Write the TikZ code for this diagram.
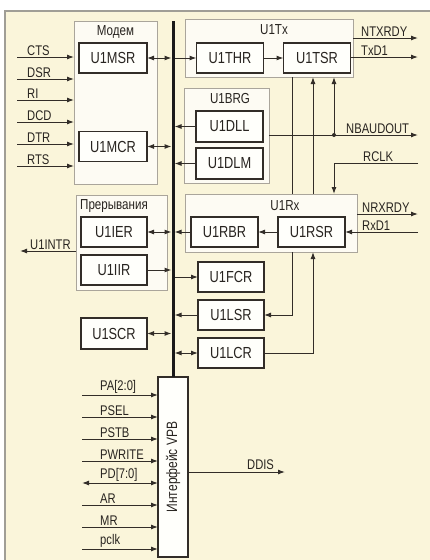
\documentclass[tikz,border=0pt]{standalone}
\usepackage{fontspec}
\setmainfont{Liberation Sans}[FakeStretch=0.8]
\usetikzlibrary{arrows.meta}
\definecolor{cream}{RGB}{250,245,218}
\definecolor{grpfill}{RGB}{253,251,243}
\definecolor{regfill}{RGB}{255,255,251}
\definecolor{grpline}{RGB}{170,165,155}
\definecolor{linec}{RGB}{50,45,40}
\definecolor{textc}{RGB}{40,36,32}
\definecolor{framec}{RGB}{160,158,150}
\tikzset{
  grp/.style={draw=grpline, fill=grpfill, line width=0.8pt, inner sep=0pt, outer sep=0pt, anchor=north west},
  reg/.style={draw=linec, fill=regfill, line width=1.4pt, inner sep=0pt, outer sep=0pt,
    minimum width=67pt, minimum height=30pt, text=textc, font=\fontsize{16}{19}\selectfont},
  ttl/.style={text=textc, inner sep=0pt, font=\fontsize{14.5}{17}\selectfont},
  sig/.style={text=textc, inner sep=0pt, anchor=south west, font=\fontsize{14}{16}\selectfont},
  conn/.style={draw=linec, line width=1pt},
  arr/.style={conn, -{Latex[length=7pt,width=5pt]}},
  darr/.style={conn, {Latex[length=7pt,width=5pt]}-{Latex[length=7pt,width=5pt]}},
  busline/.style={draw=black!90, line width=3pt},
}
\begin{document}
\begin{tikzpicture}[x=1pt,y=-1pt]
\path[use as bounding box] (0,0) rectangle (430,560);
\fill[white] (0,0) rectangle (430,560);
\fill[cream] (5,11) rectangle (430,560);
\draw[framec, line width=1.5pt] (5,560) -- (5,11) -- (430,11);

% group boxes
\node[grp, minimum width=83pt, minimum height=163pt] (modem) at (74,21) {};
\node[ttl] (modemT) at (115.5,32) {Модем};
\node[grp, minimum width=168pt, minimum height=58pt] (tx) at (185,19) {};
\node[ttl] (txT) at (274,30) {U1Tx};
\node[grp, minimum width=85pt, minimum height=95pt] (brg) at (184,88) {};
\node[ttl] (brgT) at (230,99) {U1BRG};
\node[grp, minimum width=172pt, minimum height=58pt] (rx) at (185,194) {};
\node[ttl] (rxT) at (285,206) {U1Rx};
\node[grp, minimum width=91pt, minimum height=95pt] (intr) at (76,195) {};
\node[ttl] (intrT) at (114,206) {Прерывания};

% registers
\node[reg, minimum width=68pt] (msr) at (113,58) {U1MSR};
\node[reg, minimum width=68pt] (mcr) at (113,146.5) {U1MCR};
\node[reg] (thr) at (230,58) {U1THR};
\node[reg] (tsr) at (317,58) {U1TSR};
\node[reg, minimum height=31pt] (dll) at (229.5,126.5) {U1DLL};
\node[reg, minimum height=31pt] (dlm) at (229.5,163.5) {U1DLM};
\node[reg] (rbr) at (224.5,232) {U1RBR};
\node[reg] (rsr) at (311.5,232) {U1RSR};
\node[reg, minimum width=66pt] (ier) at (114,232) {U1IER};
\node[reg, minimum width=66pt] (iir) at (114,270) {U1IIR};
\node[reg, minimum width=66pt, minimum height=31pt] (scr) at (114,333.5) {U1SCR};
\node[reg, minimum width=66pt] (fcr) at (231,277) {U1FCR};
\node[reg, minimum width=66pt] (lsr) at (231,315) {U1LSR};
\node[reg, minimum width=66pt] (lcr) at (231,353) {U1LCR};
\node[reg, minimum width=30pt, minimum height=180pt, line width=1.2pt] (vpb) at (173,467) {};
\node[rotate=90, text=textc, inner sep=0pt, font=\fontsize{15}{17}\selectfont] (vpbT) at (vpb.center) {Интерфейс VPB};

% bus
\coordinate (bustop) at (173,21);
\draw[busline] (bustop) -- (vpb.north);

% bus connections
\draw[darr, shorten >=1.5pt] (msr.east) -- (msr.east -| bustop);
\draw[arr, shorten <=1.5pt] (thr.west -| bustop) -- (thr.west);
\draw[darr, shorten >=1.5pt] (mcr.east) -- (mcr.east -| bustop);
\draw[arr, shorten >=1.5pt] (dll.west) -- (dll.west -| bustop);
\draw[arr, shorten >=1.5pt] (dlm.west) -- (dlm.west -| bustop);
\draw[darr, shorten >=1.5pt] (ier.east) -- (ier.east -| bustop);
\draw[arr, shorten >=1.5pt] (rbr.west) -- (rbr.west -| bustop);
\draw[arr, shorten >=1.5pt] (iir.east) -- (iir.east -| bustop);
\draw[arr, shorten <=1.5pt] (fcr.west -| bustop) -- (fcr.west);
\draw[arr, shorten >=1.5pt] (lsr.west) -- (lsr.west -| bustop);
\draw[darr, shorten >=1.5pt] (scr.east) -- (scr.east -| bustop);
\draw[darr, shorten <=1.5pt] (lcr.west -| bustop) -- (lcr.west);

% internal arrows
\draw[arr] (thr.east) -- (tsr.west);
\draw[arr] (rsr.west) -- (rbr.east);

% left modem inputs
\foreach \lab/\y [count=\i] in {CTS/57, DSR/79, RI/100, DCD/122, DTR/144, RTS/166} {
  \coordinate (min\i) at (17,\y);
  \draw[arr] (min\i) -- (min\i -| modem.west);
  \node[sig] (minl\i) at (27,\y-1.5) {\lab};
}

% U1INTR
\coordinate (introut) at (20,251);
\draw[arr] (introut -| intr.west) -- (introut);
\node[sig] (intrl) at (30,249.5) {U1INTR};

% VPB inputs
\foreach \lab/\y [count=\i] in {{PA[2:0]}/395, PSEL/417, PSTB/439, PWRITE/461, AR/505, MR/527, pclk/549} {
  \coordinate (vin\i) at (82,\y);
  \draw[arr] (vin\i) -- (vin\i -| vpb.west);
  \node[sig] (vinl\i) at (100,\y-1.5) {\lab};
}
\coordinate (pdin) at (82,483);
\draw[darr] (pdin) -- (pdin -| vpb.west);
\node[sig] (pdl) at (100,481.5) {PD[7:0]};

% DDIS
\coordinate (ddis) at (285,472);
\draw[arr] (ddis -| vpb.east) -- (ddis);
\node[sig] (ddisl) at (247,470) {DDIS};

% right side signals
\coordinate (ntx) at (418,38);
\draw[arr] (ntx -| tx.east) -- (ntx);
\node[sig] (ntxl) at (361,36.5) {NTXRDY};
\coordinate (txd) at (418,57);
\draw[arr] (tsr.east |- txd) -- (txd);
\node[sig] (txdl) at (361,55.5) {TxD1};

\coordinate (nbaud) at (418,135);
\coordinate (nbdot) at (334,135);
\draw[arr] (nbaud -| brg.east) -- (nbaud);
\fill[linec] (nbdot) circle (2pt);
\node[sig] (nbaudl) at (346,133.5) {NBAUDOUT};
\draw[arr] (nbdot) -- (nbdot |- tx.south);

\coordinate (rclk) at (418,163);
\draw[arr] (rclk) -| (nbdot |- rx.north);
\node[sig] (rclkl) at (363,161.5) {RCLK};

\coordinate (nrx) at (418,214);
\draw[arr] (nrx -| rx.east) -- (nrx);
\node[sig] (nrxl) at (362,212.5) {NRXRDY};
\coordinate (rxd) at (418,232);
\draw[arr] (rxd) -- (rxd -| rsr.east);
\node[sig] (rxdl) at (362,230.5) {RxD1};

% vertical links
\coordinate (v1) at (292,315);
\draw[conn] (v1 |- tx.south) -- (v1 |- rx.north);
\draw[arr] (v1 |- rx.south) -- (v1) -- (lsr.east);
\coordinate (v2) at (313,353);
\draw[arr] (lcr.east) -- (v2) -- (v2 |- rx.south);
\draw[arr] (v2 |- rx.north) -- (v2 |- tx.south);
\end{tikzpicture}
\end{document}
